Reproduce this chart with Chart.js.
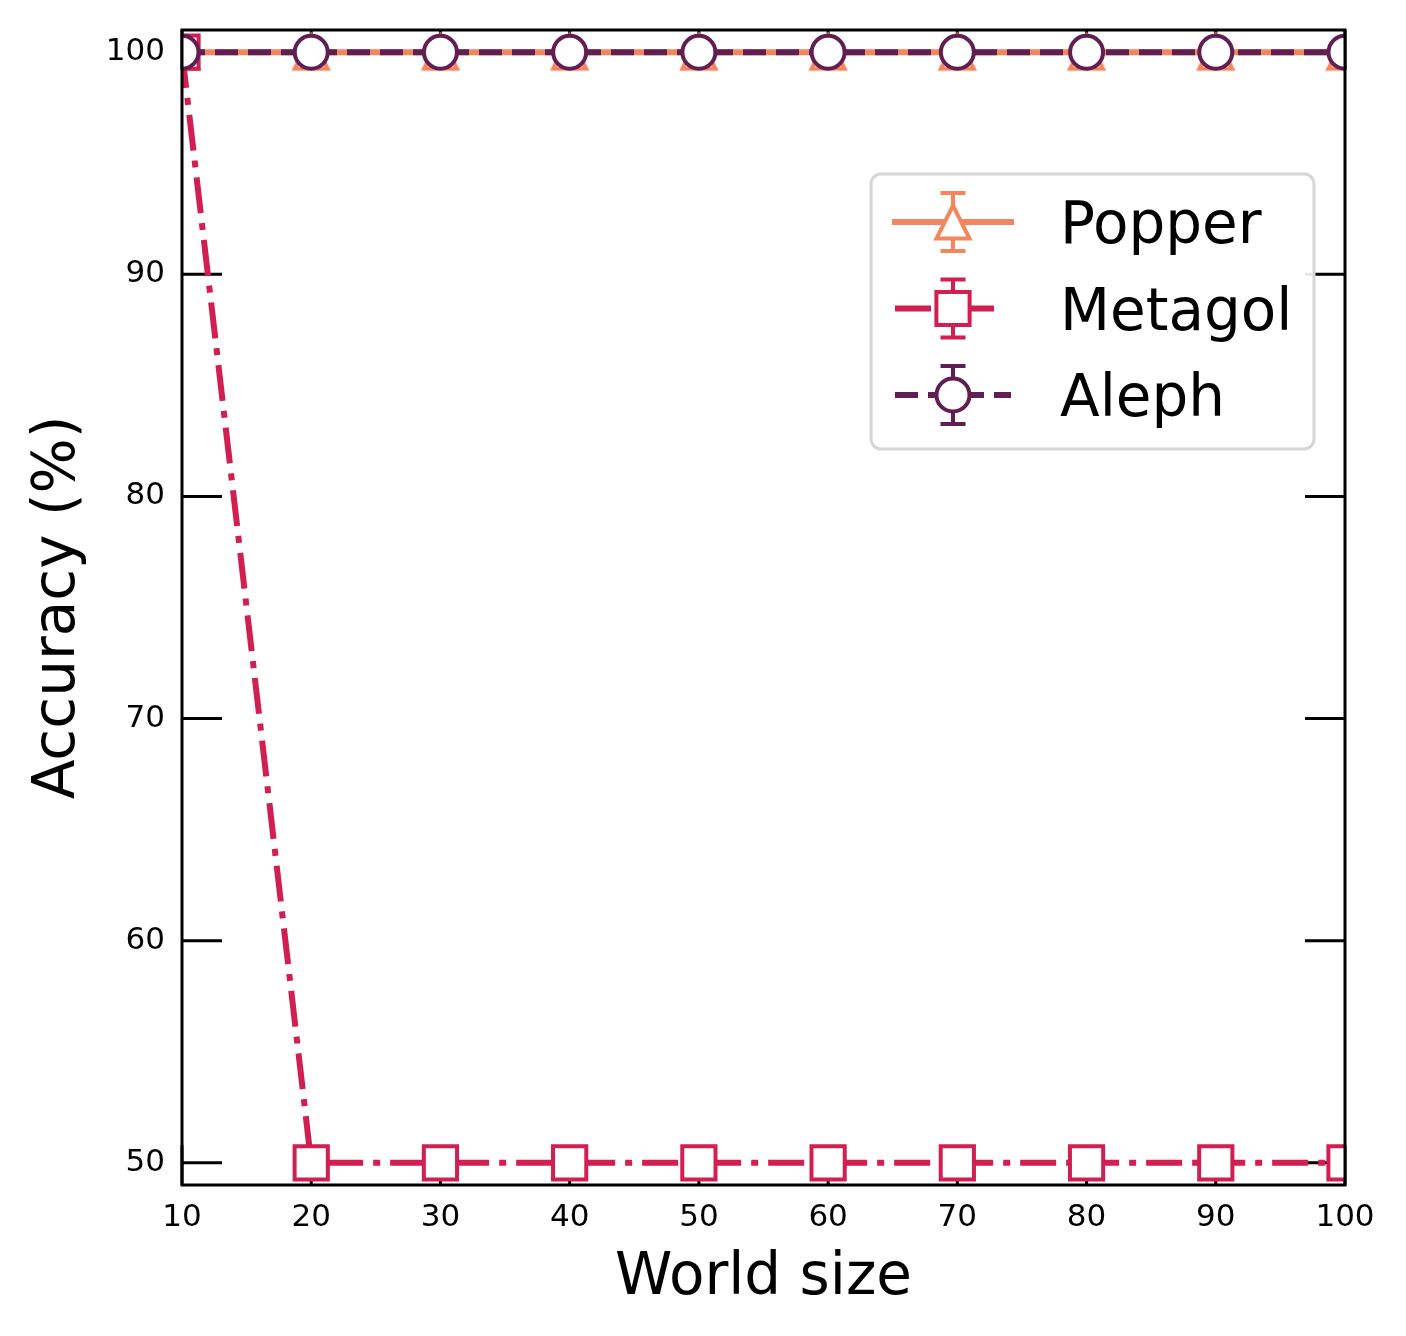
<!DOCTYPE html>
<html>
<head>
<meta charset="utf-8">
<script src="https://cdn.jsdelivr.net/npm/chart.js@4.4.1/dist/chart.umd.min.js"></script>
<style>
  html, body { margin: 0; padding: 0; background: #fff; }
  #wrap { width: 1406px; height: 1336px; }
</style>
</head>
<body>
<div id="wrap"><canvas id="chart" width="1406" height="1336"></canvas></div>
<script>
const worldSizes = [10, 20, 30, 40, 50, 60, 70, 80, 90, 100];
const popperAcc  = [100, 100, 100, 100, 100, 100, 100, 100, 100, 100];
const metagolAcc = [100, 50, 50, 50, 50, 50, 50, 50, 50, 50];
const alephAcc   = [100, 100, 100, 100, 100, 100, 100, 100, 100, 100];
const xTicks = [10, 20, 30, 40, 50, 60, 70, 80, 90, 100];
const yTicks = [50, 60, 70, 80, 90, 100];

const FONT = 'DejaVu Sans';
const POPPER = '#f4865e';
const METAGOL = '#d01f50';
const ALEPH = '#611e52';

// matplotlib style open triangle marker
function triangleMarker(color) {
  const c = document.createElement('canvas');
  c.width = c.height = 50;
  const g = c.getContext('2d');
  g.beginPath();
  g.moveTo(25, 25 - 16.5);
  g.lineTo(25 + 16.5, 25 + 16.5);
  g.lineTo(25 - 16.5, 25 + 16.5);
  g.closePath();
  g.fillStyle = '#fff';
  g.fill();
  g.lineWidth = 4;
  g.strokeStyle = color;
  g.stroke();
  return c;
}

const toPts = arr => arr.map((v, i) => ({ x: worldSizes[i], y: v }));

const datasets = [
  { label: 'Popper', data: toPts(popperAcc), borderColor: POPPER, borderWidth: 6,
    pointStyle: triangleMarker(POPPER), pointRadius: 17, order: 2 },
  { label: 'Metagol', data: toPts(metagolAcc), borderColor: METAGOL, borderWidth: 6,
    borderDash: [36, 10, 7, 10], pointStyle: 'rect', pointRadius: 23.5, order: 1 },
  { label: 'Aleph', data: toPts(alephAcc), borderColor: ALEPH, borderWidth: 6,
    borderDash: [23, 10], pointStyle: 'circle', pointRadius: 16.5, order: 0 }
];
datasets.forEach(d => {
  d.pointBackgroundColor = '#fff';
  d.pointBorderColor = d.borderColor;
  d.pointBorderWidth = 4;
  d.pointHoverRadius = d.pointRadius;
  d.fill = false;
  d.tension = 0;
  d.clip = 0;
  d.borderCapStyle = 'butt';
});

// legend handle extents (px)
const handleSpan = { Popper: [892, 1014], Metagol: [895, 1003], Aleph: [895, 1011] };

const framePlugin = {
  id: 'frame',
  beforeDatasetsDraw(chart) {
    const { ctx, chartArea: a, scales } = chart;
    ctx.save();
    ctx.strokeStyle = '#000';
    ctx.lineWidth = 3;
    ctx.beginPath();
    yTicks.forEach(v => {
      const y = scales.y.getPixelForValue(v);
      ctx.moveTo(a.left, y); ctx.lineTo(a.left + 40, y);
      ctx.moveTo(a.right, y); ctx.lineTo(a.right - 40, y);
    });
    xTicks.forEach(v => {
      const x = scales.x.getPixelForValue(v);
      ctx.moveTo(x, a.bottom); ctx.lineTo(x, a.bottom - 40);
      ctx.moveTo(x, a.top); ctx.lineTo(x, a.top + 40);
    });
    ctx.stroke();
    ctx.restore();
  },
  afterDatasetsDraw(chart) {
    const { ctx, chartArea: a } = chart;
    ctx.save();
    ctx.strokeStyle = '#000';
    ctx.lineWidth = 3;
    ctx.strokeRect(a.left, a.top, a.right - a.left, a.bottom - a.top);
    ctx.restore();
  },
  afterDraw(chart) {
    const ctx = chart.ctx;
    const bx = 871, by = 174, bw = 443, bh = 275, r = 10;
    ctx.save();
    ctx.beginPath();
    ctx.roundRect(bx, by, bw, bh, r);
    ctx.fillStyle = 'rgba(255,255,255,0.9)';
    ctx.fill();
    ctx.lineWidth = 3;
    ctx.strokeStyle = '#d6d6d6';
    ctx.stroke();

    chart.data.datasets.forEach((d, i) => {
      const cy = 222 + i * 86.5;
      const cx = 953;
      const span = handleSpan[d.label];
      ctx.strokeStyle = d.borderColor;
      ctx.lineWidth = 6;
      ctx.lineCap = 'butt';
      ctx.setLineDash(d.borderDash || []);
      ctx.beginPath();
      ctx.moveTo(span[0], cy); ctx.lineTo(span[1], cy);
      ctx.stroke();
      ctx.setLineDash([]);
      ctx.lineWidth = 4;
      ctx.beginPath();
      ctx.moveTo(cx, cy - 30); ctx.lineTo(cx, cy + 30);
      ctx.moveTo(cx - 12.5, cy - 29); ctx.lineTo(cx + 12.5, cy - 29);
      ctx.moveTo(cx - 12.5, cy + 29); ctx.lineTo(cx + 12.5, cy + 29);
      ctx.stroke();
      ctx.fillStyle = '#fff';
      ctx.strokeStyle = d.borderColor;
      ctx.lineWidth = 4;
      Chart.helpers.drawPoint(ctx, {
        pointStyle: d.pointStyle, radius: d.pointRadius, rotation: 0, borderWidth: 4
      }, cx, cy);
      ctx.fillStyle = '#000';
      ctx.font = '58px "' + FONT + '"';
      ctx.textBaseline = 'alphabetic';
      ctx.textAlign = 'left';
      ctx.fillText(d.label, 1060, cy + 21);
    });
    ctx.restore();
  }
};

new Chart(document.getElementById('chart'), {
  type: 'line',
  data: { datasets: datasets },
  plugins: [framePlugin],
  options: {
    responsive: false,
    animation: false,
    devicePixelRatio: 1,
    layout: { padding: { left: 0, top: 30, right: 61, bottom: 0 } },
    plugins: { legend: { display: false }, tooltip: { enabled: false } },
    scales: {
      x: {
        type: 'linear', min: 10, max: 100,
        afterBuildTicks: s => { s.ticks = xTicks.map(v => ({ value: v })); },
        afterFit: s => { s.height = 151; s.paddingLeft = 0; s.paddingRight = 0; },
        grid: { display: false, drawTicks: false }, border: { display: false },
        ticks: { font: { family: FONT, size: 31 }, color: '#000', padding: 14,
                 maxRotation: 0, autoSkip: false },
        title: { display: true, text: 'World size', color: '#000',
                 font: { family: FONT, size: 58 }, padding: { top: 0, bottom: 22 } }
      },
      y: {
        type: 'linear', min: 49, max: 101,
        afterBuildTicks: s => { s.ticks = yTicks.map(v => ({ value: v })); },
        afterFit: s => { s.width = 182; s.paddingTop = 0; s.paddingBottom = 0; },
        grid: { display: false, drawTicks: false }, border: { display: false },
        ticks: { font: { family: FONT, size: 31 }, color: '#000', padding: 17, autoSkip: false },
        title: { display: true, text: 'Accuracy (%)', color: '#000',
                 font: { family: FONT, size: 58 }, padding: { top: 24, bottom: 0 } }
      }
    }
  }
});
</script>
</body>
</html>
